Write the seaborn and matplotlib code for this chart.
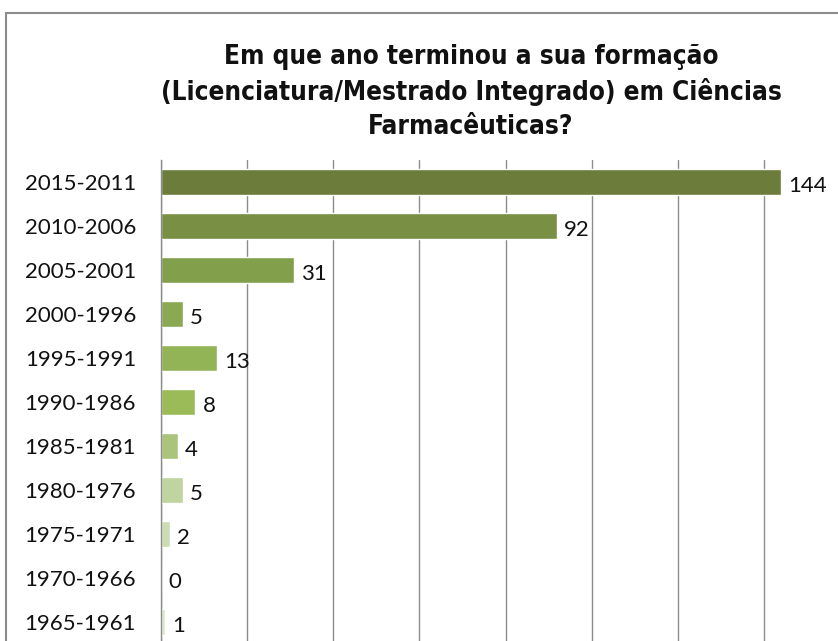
import matplotlib
matplotlib.use("Agg")
import matplotlib.pyplot as plt
import matplotlib.patches as mpatches
import seaborn as sns
import pandas as pd

categories = ["2015-2011", "2010-2006", "2005-2001", "2000-1996", "1995-1991",
              "1990-1986", "1985-1981", "1980-1976", "1975-1971", "1970-1966",
              "1965-1961"]
values = [144, 92, 31, 5, 13, 8, 4, 5, 2, 0, 1]
bar_colors = ["#6B7C3B", "#788F44", "#82A04C", "#8AA952", "#93B456", "#9BBB59",
              "#ABC47B", "#BFD49F", "#CCDDB3", "#D5E3C0", "#DCE8CD"]
title_text = "Em que ano terminou a sua formação\n(Licenciatura/Mestrado Integrado) em Ciências\nFarmacêuticas?"

df = pd.DataFrame({"cat": categories, "val": values})

sns.set_style("white")
plt.rcParams["font.family"] = ["Lato", "DejaVu Sans"]

W, H = 838, 641
fig = plt.figure(figsize=(W / 100, H / 100), dpi=100)

# outer chart frame
fig.patches.append(mpatches.Rectangle((6 / W, -0.5), 1.5, 1.5 - 13 / H, transform=fig.transFigure,
                                      fill=False, edgecolor="#8C8C8C", linewidth=1.5, zorder=0))

ax = fig.add_axes([161 / W, -3 / H, 689 / W, (644 - 160) / H])
sns.barplot(data=df, y="cat", x="val", hue="cat", palette=bar_colors, legend=False,
            orient="h", width=0.57, saturation=1, ax=ax)

ax.set_xlim(0, 160)
ax.set_xticks(range(0, 161, 20))
ax.grid(axis="x", color="#8C8C8C", linewidth=1)
ax.set_axisbelow(True)
for s in ["top", "right", "bottom"]:
    ax.spines[s].set_visible(False)
ax.spines["left"].set_color("#8C8C8C")
ax.spines["left"].set_linewidth(1)
ax.set_xlabel("")
ax.set_ylabel("")
ax.tick_params(axis="y", length=0, pad=18, labelsize=16, labelcolor="#111111")
ax.tick_params(axis="x", length=0, labelbottom=False)

for i, v in enumerate(values):
    ax.annotate(str(v), (v, i), xytext=(5, -3), textcoords="offset points",
                ha="left", va="center", fontsize=16, color="#111111")

fig.text(471 / W, 1 - 92 / H, title_text, ha="center", va="center", fontsize=18.7,
         fontweight="bold", family=["DejaVu Sans"], fontstretch="condensed",
         linespacing=1.4, color="#111111")

fig.savefig("out.png", dpi=100)
